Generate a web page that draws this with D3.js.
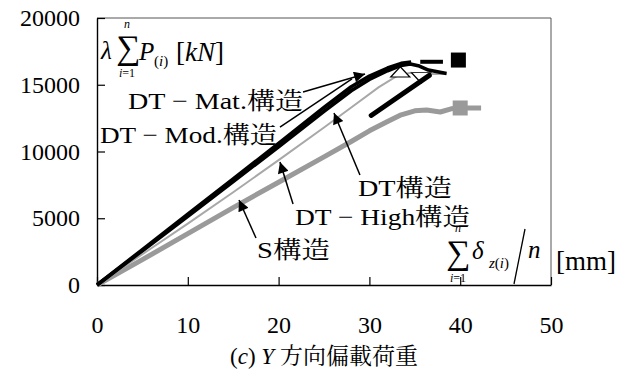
<!DOCTYPE html>
<html><head><meta charset="utf-8">
<script src="https://cdn.jsdelivr.net/npm/d3@7/dist/d3.min.js"></script>
<style>
body{margin:0;background:#fff}
svg{display:block;font-family:"Liberation Serif","Noto Serif CJK JP",serif}
</style></head><body>
<div id="chart"></div>
<script>
// tick values
const xTicks = [0, 10, 20, 30, 40, 50];
const yTicks = [0, 5000, 10000, 15000, 20000];

// curves: [displacement mm, load kN]
const sStruct = [[0,0],[5,1900],[10,3850],[15,5800],[20,7700],[25,9600],[28,10750],[30,11550],[32,12250],[33.5,12750],[35,13050],[36.3,13110],[37.8,12960],[39,13200],[40,13260],[42.3,13260]];
const dtHigh = [[0,0],[5,2300],[10,4600],[15,6950],[20,9350],[25,11800],[28,13300],[31,14800],[33,15650],[34.5,15900],[36,15800],[38.5,15800]];
const dtStruct = [[30.2,12700],[36.6,15700]];
const dtMod = [[0,0],[5,2570],[10,5150],[15,7750],[20,10350],[25,13000],[28,14550],[30,15400],[32,16050],[33.5,16450],[34.5,16550],[35.5,16400],[36.5,16100],[38.5,15850]];
const dtMat = [[0,0],[5,2650],[10,5300],[15,7950],[20,10600],[25,13300],[28,14850],[30,15650],[32,16250],[33.5,16600],[34.6,16700]];
const dtMatTail = [[35.6,16720],[38.1,16720]];

// end markers
const squares = [{x:39.8, y:16850, fill:"#000"}, {x:40.0, y:13260, fill:"#9a9a9a"}];
const triangles = [{x:33.4, y:15840, rot:0}, {x:35.7, y:15650, rot:180}];

// leader arrows, from label to curve (data units)
const arrows = [
  {from:[22.69,14457], to:[29.52,15805], head:true},
  {from:[20.15,11835], to:[28.08,15431], head:false},
  {from:[28.96,8240],  to:[26.10,12884], head:true},
  {from:[21.59,6067],  to:[20.15,9213],  head:true},
  {from:[17.51,3521],  to:[15.64,6367],  head:true}
];

const labels = [
  {text:"DT − Mat.", cjk:"構造", x:128, y:109, len:175},
  {text:"DT − Mod.", cjk:"構造", x:100, y:143, len:177},
  {text:"DT", cjk:"構造", x:358, y:196, len:94},
  {text:"DT − High", cjk:"構造", x:295, y:225, len:175},
  {text:"S", cjk:"構造", x:257, y:258, len:73}
];

const serif = '"Liberation Serif",serif';
const cjkFont = '"Noto Serif CJK JP",serif';

const width = 632, height = 372;
const svg = d3.select("#chart").append("svg")
    .attr("width", width)
    .attr("height", height);

const x = d3.scaleLinear().domain([0, 50]).range([97, 551]);
const y = d3.scaleLinear().domain([0, 20000]).range([285, 18]);

// frame top / right
svg.append("path")
    .attr("d", `M${x(0)},${y(20000)}H${x(50)}V${y(0)}`)
    .attr("fill", "none")
    .attr("stroke", "#555")
    .attr("stroke-width", 1);

// axes
const styleAxis = g => {
    g.attr("font-family", serif).attr("font-size", 24);
    g.select(".domain").attr("stroke", "#000").attr("stroke-width", 1.4);
    g.selectAll(".tick line").attr("stroke", "#000").attr("stroke-width", 1.2);
    g.selectAll("text").attr("fill", "#000");
};

svg.append("g")
    .attr("transform", `translate(${x(0)},0)`)
    .call(d3.axisLeft(y).tickValues(yTicks).tickSizeInner(-8).tickSizeOuter(0).tickPadding(17).tickFormat(d3.format("d")))
    .call(styleAxis);

svg.append("g")
    .attr("transform", `translate(0,${y(0)})`)
    .call(d3.axisBottom(x).tickValues(xTicks).tickSizeInner(-8).tickSizeOuter(0).tickPadding(31))
    .call(styleAxis);

// curves
const line = d3.line().x(d => x(d[0])).y(d => y(d[1]));

svg.append("path").datum(sStruct)
    .attr("d", line).attr("fill", "none")
    .attr("stroke", "#9a9a9a").attr("stroke-width", 5).attr("stroke-linejoin", "round");

svg.append("path").datum(dtHigh)
    .attr("d", line).attr("fill", "none")
    .attr("stroke", "#a8a8a8").attr("stroke-width", 2);

svg.selectAll(".tri")
    .data(triangles)
    .join("path")
    .attr("class", "tri")
    .attr("transform", d => `translate(${x(d.x)},${y(d.y)}) rotate(${d.rot}) scale(1.2,0.75)`)
    .attr("d", d3.symbol(d3.symbolTriangle, 110))
    .attr("fill", "#fff")
    .attr("stroke", "#000")
    .attr("stroke-width", 1.3);

svg.append("path").datum(dtStruct)
    .attr("d", line).attr("fill", "none")
    .attr("stroke", "#000").attr("stroke-width", 5).attr("stroke-linecap", "round");

[dtMod, dtMat].forEach(data => {
    svg.append("path").datum(data)
        .attr("d", line).attr("fill", "none")
        .attr("stroke", "#000").attr("stroke-width", 3.6).attr("stroke-linejoin", "round");
});

svg.append("path").datum(dtMatTail)
    .attr("d", line).attr("fill", "none")
    .attr("stroke", "#000").attr("stroke-width", 4);

svg.selectAll(".sq")
    .data(squares)
    .join("rect")
    .attr("class", "sq")
    .attr("x", d => x(d.x) - 7.5)
    .attr("y", d => y(d.y) - 7.5)
    .attr("width", 15)
    .attr("height", 15)
    .attr("fill", d => d.fill);

// arrows
svg.append("defs").append("marker")
    .attr("id", "ah")
    .attr("viewBox", "0 0 10 10")
    .attr("refX", 10).attr("refY", 5)
    .attr("markerWidth", 15).attr("markerHeight", 11)
    .attr("markerUnits", "userSpaceOnUse")
    .attr("orient", "auto")
    .append("path").attr("d", "M0,0L10,5L0,10Z").attr("fill", "#000");

svg.selectAll(".arrow")
    .data(arrows)
    .join("line")
    .attr("class", "arrow")
    .attr("x1", d => x(d.from[0])).attr("y1", d => y(d.from[1]))
    .attr("x2", d => x(d.to[0])).attr("y2", d => y(d.to[1]))
    .attr("stroke", "#000").attr("stroke-width", 1.5)
    .attr("marker-end", d => d.head ? "url(#ah)" : null);

// curve labels
const lab = svg.selectAll(".lab")
    .data(labels)
    .join("text")
    .attr("class", "lab")
    .attr("x", d => d.x).attr("y", d => d.y)
    .attr("font-family", serif)
    .attr("font-size", 24)
    .attr("textLength", d => d.len)
    .attr("lengthAdjust", "spacingAndGlyphs");
lab.append("tspan").text(d => d.text);
lab.append("tspan").attr("font-family", cjkFont).text(d => d.cjk);

// small helper for math pieces
function put(t, px, py, size, opts = {}) {
    const el = svg.append("text").attr("x", px).attr("y", py).attr("font-size", size)
        .attr("font-family", opts.font || serif)
        .attr("text-anchor", opts.anchor || "start");
    if (opts.italic) el.attr("font-style", "italic");
    el.text(t);
    return el;
}

// y axis title
put("λ", 101, 59, 25, {italic: true});
put("∑", 116, 59, 34);
put("n", 127, 28, 12, {italic: true, anchor: "middle"});
const yi = put("", 127, 77, 12, {anchor: "middle"});
yi.append("tspan").attr("font-style", "italic").text("i");
yi.append("tspan").text("=1");
put("P", 139, 60, 25, {italic: true});
const pi = put("(", 154, 66, 15);
pi.append("tspan").attr("font-style", "italic").text("i");
pi.append("tspan").text(")");
const kn = put("[", 176, 61, 27);
kn.append("tspan").attr("font-style", "italic").text("kN");
kn.append("tspan").text("]");

// x axis title
put("∑", 446, 264, 34);
put("n", 458, 232, 12, {italic: true, anchor: "middle"});
const xi = put("", 458, 282, 12, {anchor: "middle"});
xi.append("tspan").attr("font-style", "italic").text("i");
xi.append("tspan").text("=1");
put("δ", 472, 259, 25, {italic: true});
const zi = put("", 489, 268, 15);
zi.append("tspan").attr("font-style", "italic").text("z");
zi.append("tspan").text("(");
zi.append("tspan").attr("font-style", "italic").text("i");
zi.append("tspan").text(")");
svg.append("line").attr("x1", 525).attr("y1", 229).attr("x2", 514).attr("y2", 284)
    .attr("stroke", "#000").attr("stroke-width", 1.3);
put("n", 528, 258, 25, {italic: true});
put("[mm]", 556, 270, 27);

// caption
const cap = put("(", 324, 364, 23, {anchor: "middle"});
cap.append("tspan").attr("font-style", "italic").text("c");
cap.append("tspan").text(") ");
cap.append("tspan").attr("font-style", "italic").text("Y");
cap.append("tspan").attr("font-family", cjkFont).text(" 方向偏載荷重");
</script>
</body></html>
